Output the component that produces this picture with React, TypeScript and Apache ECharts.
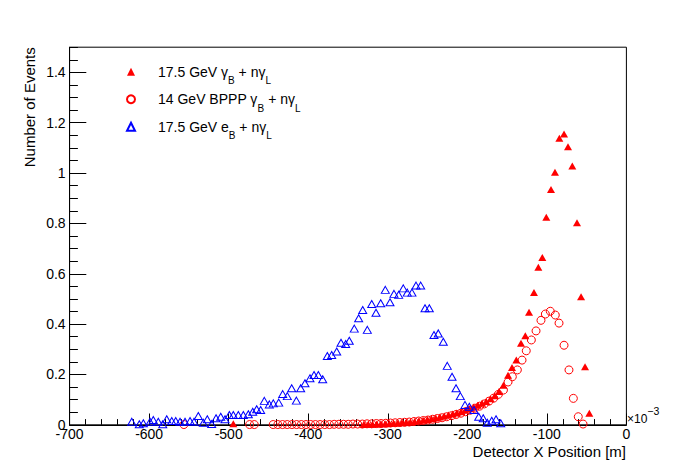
import React, { useEffect, useRef } from "react";
import * as echarts from "echarts";

// ---- Data (x in 1e-3 m, y = number of events) ----
const gammaB17: number[][] = [
  [-46.6, 0.046], [-52.0, 0.231], [-57.0, 0.509], [-62.1, 0.803], [-68.0, 1.028],
  [-73.4, 1.105], [-78.4, 1.155], [-84.3, 1.138], [-89.8, 1.003], [-94.8, 0.935],
  [-100.7, 0.824], [-105.7, 0.665], [-110.7, 0.626], [-116.2, 0.526], [-122.4, 0.447],
  [-127.1, 0.354], [-132.5, 0.324], [-138.4, 0.257], [-143.8, 0.228], [-148.8, 0.197],
  [-154.6, 0.157], [-160.2, 0.132], [-165.5, 0.115], [-170.8, 0.103], [-176.1, 0.093],
  [-181.4, 0.086], [-186.7, 0.078], [-192.0, 0.071], [-197.3, 0.064], [-202.6, 0.058],
  [-207.9, 0.052], [-213.2, 0.047], [-218.5, 0.043], [-223.8, 0.039], [-229.1, 0.035],
  [-234.4, 0.031], [-239.7, 0.027], [-245.0, 0.024], [-250.3, 0.021], [-255.6, 0.018],
  [-260.9, 0.016], [-266.2, 0.013], [-271.5, 0.011], [-276.8, 0.010], [-282.1, 0.008],
  [-287.4, 0.007], [-292.7, 0.006], [-298.0, 0.005], [-303.3, 0.004], [-308.6, 0.004],
  [-313.9, 0.003], [-319.2, 0.002], [-324.5, 0.002], [-329.8, 0.001], [-494.2, 0.004],
];

const bpppGammaB14: number[][] = [
  [-54.5, 0.003], [-60.5, 0.032], [-66.7, 0.105], [-72.2, 0.218], [-78.4, 0.316],
  [-84.7, 0.404], [-89.4, 0.436], [-95.7, 0.451], [-101.9, 0.440], [-107.4, 0.415],
  [-113.6, 0.373], [-119.5, 0.337], [-125.9, 0.294], [-131.2, 0.257], [-137.1, 0.218],
  [-143.4, 0.191], [-148.8, 0.170], [-154.6, 0.138], [-160.9, 0.121], [-166.8, 0.106],
  [-172.7, 0.094], [-178.6, 0.083], [-184.5, 0.074], [-190.4, 0.066], [-196.3, 0.058],
  [-202.2, 0.052], [-208.1, 0.046], [-214.0, 0.041], [-219.9, 0.036], [-225.8, 0.032],
  [-231.7, 0.028], [-237.6, 0.025], [-243.5, 0.022], [-249.4, 0.019], [-255.3, 0.017],
  [-261.2, 0.015], [-267.1, 0.013], [-273.0, 0.011], [-278.9, 0.010], [-284.8, 0.009],
  [-290.7, 0.008], [-296.6, 0.007], [-302.5, 0.006], [-308.4, 0.005], [-314.3, 0.005],
  [-320.2, 0.004], [-326.1, 0.004], [-332.0, 0.003], [-337.9, 0.003], [-343.8, 0.003],
  [-349.7, 0.002], [-355.6, 0.002], [-361.5, 0.002], [-367.4, 0.002], [-373.3, 0.001],
  [-379.2, 0.001], [-385.1, 0.001], [-391.0, 0.001], [-396.9, 0.001], [-402.8, 0.001],
  [-408.7, 0.001], [-414.6, 0.001], [-420.5, 0.001], [-426.4, 0.001], [-432.3, 0.001],
  [-438.2, 0.001], [-444.1, 0.001], [-467.8, 0.001], [-473.7, 0.001], [-556.3, 0.001],
];

const electronB17: number[][] = [
  [-621.9, 0.012], [-612.4, 0.002], [-607.3, 0.006], [-598.9, 0.012], [-594.8, 0.019],
  [-588.5, 0.012], [-582.9, 0.002], [-577.9, 0.022], [-571.6, 0.015], [-566.6, 0.015],
  [-561.2, 0.012], [-554.9, 0.012], [-548.6, 0.015], [-543.6, 0.012], [-538.2, 0.035],
  [-531.9, 0.008], [-526.9, 0.022], [-521.4, 0.003], [-515.9, 0.026], [-510.0, 0.032],
  [-504.6, 0.022], [-499.2, 0.039], [-494.2, 0.039], [-487.9, 0.039], [-481.6, 0.039],
  [-475.3, 0.042], [-469.8, 0.052], [-464.8, 0.062], [-459.8, 0.059], [-455.2, 0.095],
  [-448.9, 0.081], [-443.9, 0.085], [-437.1, 0.088], [-432.1, 0.122], [-426.3, 0.114],
  [-420.8, 0.145], [-414.9, 0.096], [-409.5, 0.145], [-404.1, 0.165], [-397.8, 0.185],
  [-392.7, 0.198], [-387.3, 0.198], [-381.8, 0.181], [-376.0, 0.273], [-370.5, 0.277],
  [-364.2, 0.291], [-358.8, 0.326], [-352.9, 0.321], [-348.4, 0.334], [-342.1, 0.382],
  [-336.6, 0.423], [-331.5, 0.456], [-325.7, 0.377], [-320.2, 0.480], [-314.8, 0.445],
  [-308.9, 0.483], [-303.1, 0.536], [-297.2, 0.487], [-292.2, 0.520], [-286.3, 0.516],
  [-280.5, 0.542], [-275.5, 0.525], [-269.6, 0.525], [-264.5, 0.553], [-258.6, 0.553],
  [-253.2, 0.463], [-247.8, 0.463], [-241.9, 0.357], [-236.5, 0.363], [-230.2, 0.330],
  [-225.2, 0.234], [-219.2, 0.191], [-214.2, 0.145], [-208.8, 0.114], [-202.9, 0.079],
  [-197.5, 0.072], [-191.6, 0.059], [-185.7, 0.032], [-180.0, 0.026], [-174.9, 0.008],
  [-169.3, 0.016], [-163.9, 0.022], [-158.0, 0.006],
];

const seriesNames = [
  "17.5 GeV γ_B + nγ_L",
  "14 GeV BPPP γ_B + nγ_L",
  "17.5 GeV e_B + nγ_L",
];

const xAxisTitle = "Detector X Position [m]";
const yAxisTitle = "Number of Events";
const xExponentBase = "×10";
const xExponent = "−3";

const FONT = "'Liberation Sans', Arial, Helvetica, sans-serif";

export default function App() {
  const ref = useRef<HTMLDivElement>(null);

  useEffect(() => {
    if (!ref.current) return;
    const chart = echarts.init(ref.current, null, { renderer: "svg" });

    const option: any = {
      animation: false,
      backgroundColor: "#ffffff",
      grid: {
        left: 69.6,
        right: 69.6,
        top: 47.2,
        bottom: 47.2,
        show: true,
        borderColor: "#000000",
        borderWidth: 1,
        backgroundColor: "transparent",
        containLabel: false,
        outerBoundsMode: "none",
      },
      xAxis: {
        type: "value",
        min: -700,
        max: 0,
        interval: 100,
        axisLine: { show: true, onZero: false, lineStyle: { color: "#000", width: 1 } },
        axisTick: { show: true, inside: true, length: 11.3, lineStyle: { color: "#000", width: 1 } },
        minorTick: { show: true, splitNumber: 5, length: 5.7, lineStyle: { color: "#000", width: 1 } },
        axisLabel: { color: "#000", fontSize: 14, fontFamily: FONT, margin: 2 },
        splitLine: { show: false },
        minorSplitLine: { show: false },
      },
      yAxis: [
        {
          type: "value",
          min: 0,
          max: 1.5,
          interval: 0.2,
          position: "left",
          axisLine: { show: true, onZero: false, lineStyle: { color: "#000", width: 1 } },
          axisTick: { show: true, inside: true, length: 16.7, lineStyle: { color: "#000", width: 1 } },
          axisLabel: {
            color: "#000",
            fontSize: 14,
            fontFamily: FONT,
            margin: 4,
            showMaxLabel: false,
            formatter: (v: number) =>
              Math.abs(v * 5 - Math.round(v * 5)) < 1e-6 ? String(+v.toFixed(1)) : "",
          },
          splitLine: { show: false },
        },
        {
          type: "value",
          min: 0,
          max: 1.5,
          interval: 0.05,
          position: "left",
          axisLine: { show: false, onZero: false },
          axisTick: { show: true, inside: true, length: 8.3, lineStyle: { color: "#000", width: 1 } },
          axisLabel: { show: false },
          splitLine: { show: false },
        },
      ],
      legend: {
        orient: "vertical",
        left: 126,
        top: 58,
        padding: 0,
        itemGap: 0,
        itemWidth: 8,
        itemHeight: 8,
        selectedMode: false,
        data: seriesNames,
        formatter: (name: string) => name.replace(/_([A-Z])/g, "{sub|$1}"),
        textStyle: {
          fontSize: 14,
          fontFamily: FONT,
          color: "#000",
          lineHeight: 27.5,
          padding: [0, 0, 0, 18],
          rich: {
            sub: { fontSize: 10, fontFamily: FONT, color: "#000", lineHeight: 8, verticalAlign: "bottom" },
          },
        },
      },
      series: [
        {
          type: "scatter",
          name: seriesNames[0],
          data: gammaB17,
          symbol: "triangle",
          symbolSize: [8, 7],
          itemStyle: { color: "#ff0000", opacity: 1 },
          silent: true,
        },
        {
          type: "scatter",
          name: seriesNames[1],
          data: bpppGammaB14,
          symbol: "circle",
          symbolSize: 8,
          itemStyle: { color: "rgba(0,0,0,0)", borderColor: "#ff0000", borderWidth: 1, opacity: 1 },
          silent: true,
        },
        {
          type: "scatter",
          name: seriesNames[2],
          data: electronB17,
          symbol: "triangle",
          symbolSize: [8, 7],
          itemStyle: { color: "rgba(0,0,0,0)", borderColor: "#0000ff", borderWidth: 1, opacity: 1 },
          silent: true,
        },
      ],
      graphic: [
        {
          type: "text",
          x: 29.5,
          y: 47.2,
          rotation: Math.PI / 2,
          style: {
            text: yAxisTitle,
            fontSize: 15,
            fontFamily: FONT,
            fill: "#000",
            align: "right",
            verticalAlign: "middle",
          },
        },
        {
          type: "text",
          x: 626,
          y: 451,
          style: {
            text: xAxisTitle,
            fontSize: 15,
            fontFamily: FONT,
            fill: "#000",
            align: "right",
            verticalAlign: "middle",
          },
        },
        {
          type: "text",
          x: 627,
          y: 418.5,
          style: {
            text: xExponentBase,
            fontSize: 12,
            fontFamily: FONT,
            fill: "#000",
            align: "left",
            verticalAlign: "middle",
          },
        },
        {
          type: "text",
          x: 647.3,
          y: 411.3,
          style: {
            text: xExponent,
            fontSize: 10.5,
            fontFamily: FONT,
            fill: "#000",
            align: "left",
            verticalAlign: "middle",
          },
        },
      ],
    };

    chart.setOption(option);
    return () => chart.dispose();
  }, []);

  return (
    <div
      ref={ref}
      style={{ position: "fixed", left: 0, top: 0, width: 696, height: 472, background: "#fff" }}
    />
  );
}
